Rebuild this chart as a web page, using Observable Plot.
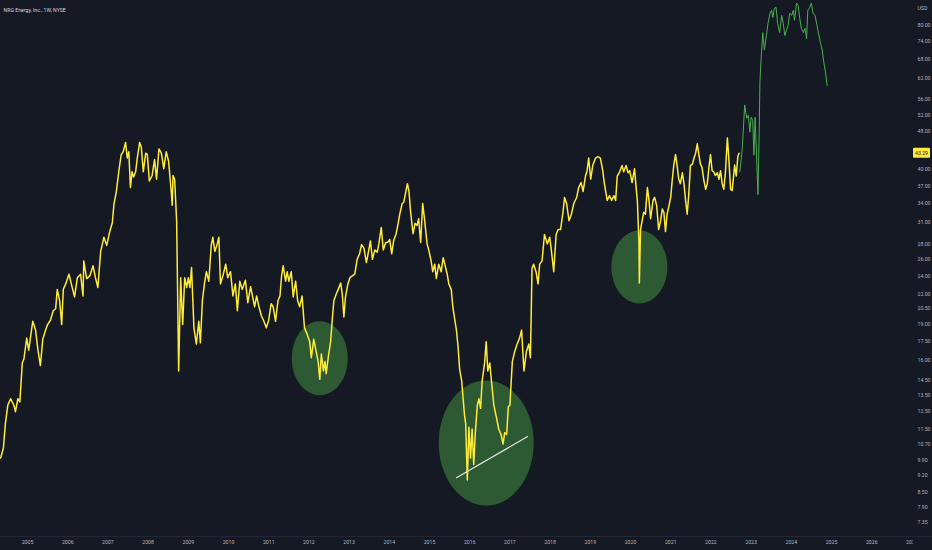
<!DOCTYPE html>
<html><head><meta charset="utf-8">
<script src="https://cdn.jsdelivr.net/npm/d3@7"></script>
<script src="https://cdn.jsdelivr.net/npm/@observablehq/plot@0.6"></script>
<style>html,body{margin:0;padding:0;background:#151924;overflow:hidden;}</style>
</head><body><div id="chart"></div>
<script>
// ---- data (decimal year, USD) ----
const yellowYears = [
2004.33,2004.40,2004.45,2004.51,2004.58,2004.66,2004.70,2004.76,2004.81,2004.87,
2004.91,2004.98,2005.03,2005.13,2005.20,2005.26,2005.32,2005.38,2005.45,2005.50,
2005.57,2005.64,2005.70,2005.74,2005.80,2005.85,2005.89,2005.95,2006.03,2006.09,
2006.17,2006.24,2006.32,2006.38,2006.40,2006.47,2006.55,2006.63,2006.69,2006.75,
2006.82,2006.90,2006.97,2007.05,2007.11,2007.15,2007.21,2007.27,2007.33,2007.38,
2007.44,2007.48,2007.52,2007.56,2007.60,2007.64,2007.69,2007.73,2007.79,2007.83,
2007.88,2007.94,2007.98,2008.03,2008.10,2008.16,2008.21,2008.27,2008.33,2008.39,
2008.45,2008.51,2008.575,2008.60,2008.62,2008.66,2008.71,2008.76,2008.81,2008.86,
2008.91,2008.96,2009.00,2009.04,2009.08,2009.14,2009.20,2009.26,2009.30,2009.35,
2009.40,2009.45,2009.51,2009.57,2009.61,2009.66,2009.72,2009.76,2009.80,2009.87,
2009.93,2009.98,2010.05,2010.11,2010.17,2010.22,2010.28,2010.34,2010.42,2010.48,
2010.55,2010.60,2010.65,2010.70,2010.75,2010.82,2010.88,2010.94,2011.00,2011.06,
2011.11,2011.17,2011.23,2011.28,2011.32,2011.36,2011.42,2011.46,2011.50,2011.56,
2011.61,2011.67,2011.72,2011.77,2011.83,2011.89,2011.96,2012.02,2012.06,2012.12,
2012.18,2012.23,2012.27,2012.31,2012.36,2012.40,2012.43,2012.48,2012.54,2012.58,
2012.62,2012.68,2012.73,2012.79,2012.83,2012.87,2012.91,2012.97,2013.02,2013.08,
2013.14,2013.20,2013.26,2013.31,2013.37,2013.43,2013.48,2013.53,2013.58,2013.64,
2013.70,2013.74,2013.80,2013.85,2013.91,2013.96,2014.01,2014.06,2014.11,2014.17,
2014.22,2014.26,2014.32,2014.36,2014.40,2014.45,2014.49,2014.53,2014.59,2014.64,
2014.69,2014.73,2014.78,2014.83,2014.88,2014.94,2014.98,2015.04,2015.08,2015.13,
2015.17,2015.23,2015.29,2015.34,2015.38,2015.44,2015.48,2015.54,2015.58,2015.63,
2015.67,2015.71,2015.75,2015.80,2015.83,2015.87,2015.90,2015.94,2015.98,2016.02,
2016.06,2016.10,2016.14,2016.19,2016.23,2016.27,2016.31,2016.37,2016.41,2016.45,
2016.50,2016.54,2016.60,2016.67,2016.72,2016.78,2016.83,2016.87,2016.92,2016.96,
2017.00,2017.06,2017.12,2017.18,2017.24,2017.29,2017.35,2017.41,2017.47,2017.51,
2017.55,2017.59,2017.65,2017.70,2017.74,2017.80,2017.86,2017.93,2017.99,2018.03,
2018.09,2018.15,2018.20,2018.26,2018.32,2018.36,2018.41,2018.47,2018.53,2018.59,
2018.66,2018.71,2018.77,2018.82,2018.88,2018.92,2018.96,2019.01,2019.06,2019.13,
2019.19,2019.25,2019.31,2019.35,2019.42,2019.48,2019.53,2019.59,2019.63,2019.67,
2019.73,2019.79,2019.83,2019.89,2019.94,2019.98,2020.04,2020.10,2020.14,2020.17,
2020.21,2020.22,2020.25,2020.29,2020.33,2020.37,2020.42,2020.46,2020.50,2020.56,
2020.60,2020.65,2020.70,2020.75,2020.79,2020.83,2020.87,2020.91,2020.95,2021.00,
2021.04,2021.08,2021.12,2021.16,2021.20,2021.24,2021.29,2021.33,2021.37,2021.41,
2021.45,2021.49,2021.54,2021.58,2021.62,2021.66,2021.70,2021.74,2021.78,2021.82,
2021.87,2021.91,2021.95,2021.99,2022.03,2022.07,2022.11,2022.16,2022.20,2022.24,
2022.28,2022.32,2022.36,2022.41,2022.45,2022.49,2022.53,2022.59,2022.63,2022.67,2022.70
];
const yellowPrices = [
10.0,10.5,11.8,12.9,13.3,12.9,12.5,13.3,13.1,15.8,
16.1,17.8,16.8,19.3,18.5,16.8,15.6,17.7,18.5,19.0,
19.4,20.3,20.5,22.5,21.3,19.0,22.5,23.1,24.2,23.1,
21.7,23.8,24.2,21.8,25.8,23.7,24.0,25.2,23.8,22.7,
27.0,28.9,27.8,29.8,31.0,33.9,36.0,39.6,43.0,43.6,
45.6,42.3,43.6,36.7,39.6,38.6,39.6,42.3,45.6,44.6,
39.6,43.3,43.0,37.9,38.9,42.0,38.2,44.2,43.3,40.2,
43.6,41.6,36.0,33.7,38.9,38.2,31.2,15.2,23.8,19.0,
23.8,22.7,23.8,22.7,25.0,18.7,17.3,19.3,17.4,21.3,
23.1,24.5,23.4,27.8,28.9,27.0,28.0,28.9,23.1,24.2,
25.4,23.8,24.5,21.8,23.1,20.3,23.4,22.5,23.5,21.1,
22.8,21.7,20.7,21.8,20.8,19.8,19.3,18.7,19.4,21.0,
20.7,19.3,21.3,21.8,24.0,25.2,23.4,24.5,23.4,24.5,
21.7,23.4,21.3,20.7,21.8,18.7,18.1,17.5,16.2,17.7,
16.7,15.9,14.6,16.5,15.2,15.9,15.0,16.2,17.5,19.4,
21.3,22.0,22.5,23.2,22.0,19.7,21.7,23.1,23.8,24.0,
24.2,26.0,26.7,27.9,27.4,25.6,26.9,28.4,26.0,27.2,
26.9,28.0,30.3,27.2,28.2,28.2,28.6,26.7,28.5,29.4,
30.9,32.3,34.0,34.2,35.6,37.4,36.0,32.6,29.4,30.9,
30.6,31.6,28.2,34.0,31.3,28.0,27.2,25.8,24.5,25.4,
23.7,25.4,24.5,26.2,25.4,24.2,23.1,22.5,20.7,19.4,
18.5,17.1,15.3,14.5,13.5,12.3,11.8,9.0,11.6,10.0,
11.5,9.7,11.3,12.9,13.3,12.7,14.5,15.8,17.5,15.2,
15.8,14.5,12.9,12.1,11.5,11.2,10.7,11.3,11.2,12.8,
12.9,15.9,16.7,17.3,17.8,18.5,15.2,16.7,17.3,16.2,
24.9,25.4,24.5,23.1,25.4,25.8,29.3,28.0,28.9,27.2,
24.5,29.3,30.0,30.0,32.6,35.0,34.0,31.3,32.3,34.0,
35.0,36.7,37.6,36.0,38.8,39.8,42.3,38.2,40.8,42.3,
42.6,42.3,39.8,37.4,34.5,35.3,34.5,35.3,34.5,38.8,
39.6,40.8,39.6,40.8,39.4,39.8,37.6,40.2,36.7,34.5,
28.2,23.2,30.0,31.3,32.6,32.3,36.7,34.5,31.6,34.5,
35.0,33.7,30.0,31.3,33.1,32.6,29.7,32.3,33.4,35.0,
38.2,41.1,43.0,40.8,38.2,37.4,39.4,37.4,34.5,32.3,
35.6,40.8,41.1,42.3,43.3,45.3,43.0,41.1,40.4,38.2,
36.4,37.4,40.4,43.0,39.8,39.6,38.9,39.4,38.2,39.8,
37.4,36.4,39.4,46.6,41.6,36.4,36.2,40.9,38.8,42.6,43.29
];
const greenYears = [
2022.72,2022.78,2022.84,2022.89,2022.93,2022.97,2023.00,2023.04,2023.07,2023.10,
2023.13,2023.17,2023.20,2023.22,2023.25,2023.29,2023.33,2023.38,2023.42,2023.47,
2023.51,2023.54,2023.58,2023.62,2023.66,2023.71,2023.76,2023.80,2023.84,2023.88,
2023.92,2023.96,2024.01,2024.05,2024.08,2024.13,2024.17,2024.21,2024.25,2024.30,
2024.34,2024.38,2024.41,2024.46,2024.50,2024.54,2024.59,2024.64,2024.68,2024.73,
2024.77,2024.81,2024.85,2024.89
];
const greenPrices = [
39.6,44.2,54.6,51.2,52.0,47.9,51.5,50.7,42.9,51.5,
44.0,35.5,47.6,61.2,68.5,77.3,71.1,76.2,80.8,84.8,
86.0,83.1,86.9,87.3,80.8,77.3,84.0,80.8,76.2,78.1,
80.0,84.8,84.0,86.0,82.0,89.1,88.0,82.8,78.9,77.3,
78.9,75.1,86.0,87.3,89.1,84.8,84.0,80.0,76.8,73.3,
71.1,66.9,64.0,60.0
];
const priceTicks = [80,74,68,62,56,52,48,40,37,34,31,28,26,24,22,20.5,19,17.5,16,14.5,13.5,12.5,11.5,10.7,9.9,9.2,8.5,7.9,7.35];
const yearTicks = d3.range(2005, 2028);
const highlightYears = [2012.27, 2016.41, 2020.22];
const highlightPrices = [16.16, 10.75, 25.05];
const trendYears = [2015.67, 2017.44];
const trendPrices = [9.10, 11.09];
const lastPrice = 43.29;
const title = "NRG Energy, Inc., 1W, NYSE";
const currency = "USD";

// ---- tables ----
const yellow = yellowYears.map((t, i) => ({t, v: yellowPrices[i]}));
const green = greenYears.map((t, i) => ({t, v: greenPrices[i]}));
const highlights = highlightYears.map((t, i) => ({t, v: highlightPrices[i]}));
const trend = trendYears.map((t, i) => ({t, v: trendPrices[i]}));

function ellipse(k) {
  return {draw(ctx, size) {
    const rx = Math.sqrt(size / Math.PI), ry = rx * k, c = 0.5523;
    ctx.moveTo(rx, 0);
    ctx.bezierCurveTo(rx, ry * c, rx * c, ry, 0, ry);
    ctx.bezierCurveTo(-rx * c, ry, -rx, ry * c, -rx, 0);
    ctx.bezierCurveTo(-rx, -ry * c, -rx * c, -ry, 0, -ry);
    ctx.bezierCurveTo(rx * c, -ry, rx, -ry * c, rx, 0);
    ctx.closePath();
  }};
}
const ellipseSizes = [[28, 37], [47.5, 62.5], [28, 36.5]];
const BG = "#151924";
const FONT = "Roboto, sans-serif";

const plot = Plot.plot({
  width: 932, height: 550,
  marginLeft: 0, marginRight: 22, marginTop: 0, marginBottom: 14,
  style: {background: BG, color: "#b2b5be", fontFamily: FONT, fontSize: "5.2px"},
  x: {type: "linear", domain: [2004.328, 2026.965], ticks: yearTicks, tickFormat: d => String(d), tickSize: 0, tickPadding: 4, label: null},
  y: {type: "log", domain: [6.86, 90.2], axis: null},
  marks: [
    ...highlights.map((h, i) => Plot.dot([h], {x: "t", y: "v", r: ellipseSizes[i][0], symbol: ellipse(ellipseSizes[i][1] / ellipseSizes[i][0]), fill: "#2d5a33", stroke: "none"})),
    Plot.line(yellow, {x: "t", y: "v", stroke: "#ffeb3b", strokeWidth: 1.5, strokeLinejoin: "round"}),
    Plot.line(green, {x: "t", y: "v", stroke: "#4caf50", strokeWidth: 1}),
    Plot.line(trend, {x: "t", y: "v", stroke: "#e8e8e8", strokeWidth: 1.1}),
    Plot.text(priceTicks, {y: d => d, frameAnchor: "right", dx: 7, textAnchor: "start", text: d => d.toFixed(2), fill: "#b2b5be"}),
    Plot.text([title], {frameAnchor: "top-left", dx: 3, dy: 7.5, textAnchor: "start", fill: "#d1d4dc"}),
    Plot.text([currency], {frameAnchor: "top-right", dx: 7, dy: 6, textAnchor: "start", fill: "#b2b5be"})
  ]
});
document.getElementById("chart").appendChild(plot);

// last-price badge on the price scale, positioned with the plot's own y scale
const svg = d3.select(plot);
const yPos = plot.scale("y").apply(lastPrice);
svg.append("line").attr("x1", 0).attr("x2", 932).attr("y1", 536.5).attr("y2", 536.5).attr("stroke", "#232733");
svg.append("rect").attr("x", 913).attr("y", 537).attr("width", 19).attr("height", 13).attr("fill", BG);
const g = svg.append("g");
g.append("rect").attr("x", 913).attr("y", yPos - 5).attr("width", 17).attr("height", 10).attr("rx", 1).attr("fill", "#ffeb3b");
g.append("text").attr("x", 921.5).attr("y", yPos).attr("dy", "0.35em").attr("text-anchor", "middle")
  .attr("fill", "#131722").attr("font-size", "5.2px").attr("font-family", FONT).text(lastPrice.toFixed(2));
</script>
</body></html>
